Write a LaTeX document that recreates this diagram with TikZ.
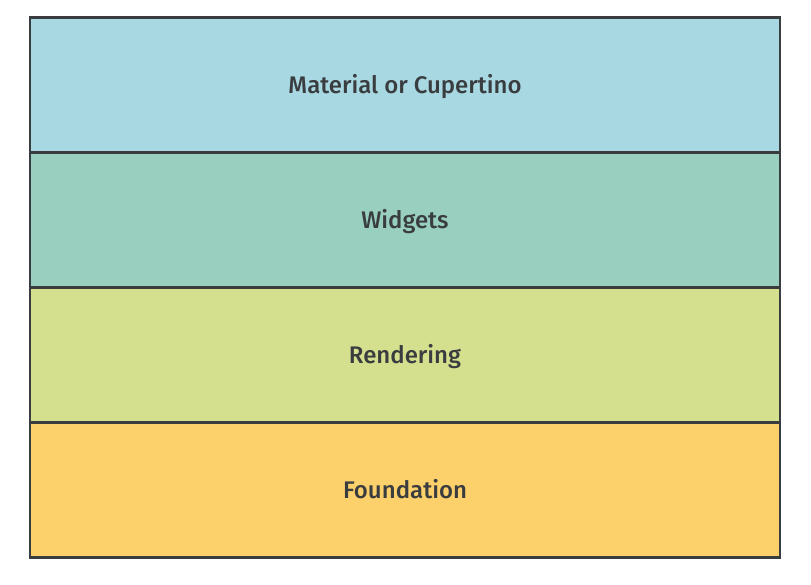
\documentclass[tikz,border=0pt]{standalone}
\usepackage{fontspec}
\setmainfont{Fira Sans}[BoldFont={Fira Sans Medium}]
\definecolor{layerA}{HTML}{A8D8E2}
\definecolor{layerB}{HTML}{98CFBF}
\definecolor{layerC}{HTML}{D5E08E}
\definecolor{layerD}{HTML}{FCD06A}
\definecolor{edge}{HTML}{3A3D3F}
\definecolor{txt}{HTML}{3A3D3F}
\begin{document}
\begin{tikzpicture}[x=1pt,y=1pt,
  layer/.style={draw=edge, line width=2.6pt, minimum width=750pt, minimum height=135pt, inner sep=0pt, outer sep=0pt, anchor=north west, text=txt, text height=19pt, text depth=2pt, font=\fontsize{24}{28}\selectfont\bfseries}]
\useasboundingbox (0,0) rectangle (811,585);
\node[layer, fill=layerA] (mat) at (30,567.5) {Material or Cupertino};
\node[layer, fill=layerB] (wid) at (30,432.5) {Widgets};
\node[layer, fill=layerC] (ren) at (30,297.5) {Rendering};
\node[layer, fill=layerD] (fou) at (30,162.5) {Foundation};
\end{tikzpicture}
\end{document}
